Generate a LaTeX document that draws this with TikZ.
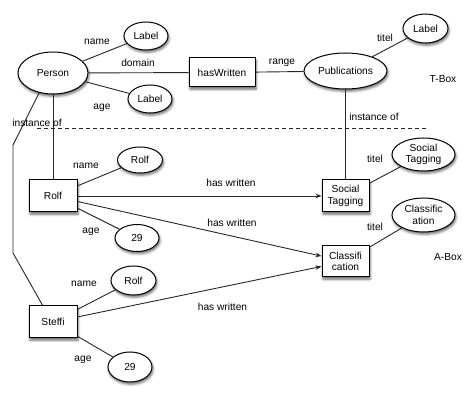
\documentclass[tikz,border=0pt]{standalone}
\usepackage{fontspec}
\setmainfont{Liberation Sans}
\usetikzlibrary{shapes.geometric,arrows.meta,shadows.blur}
\begin{document}
\begin{tikzpicture}[x=1pt,y=-1pt,
  every node/.style={font=\fontsize{10.2}{11.7}\selectfont},
  shad/.style={blur shadow={shadow xshift=1pt,shadow yshift=-2.2pt,shadow blur radius=2.5pt,shadow opacity=60}},
  ell/.style={ellipse,draw,fill=white,line width=1pt,inner sep=0pt,align=center,shad},
  bx/.style={rectangle,draw,fill=white,line width=1pt,inner sep=0pt,align=center,shad},
  lbl/.style={inner sep=0pt},
  conn/.style={line width=0.9pt,draw=black!85},
  arr/.style={conn,-{Stealth[length=6pt,width=4.5pt]}}
]
\useasboundingbox (0,0) rectangle (474,403);
% T-Box
\node[ell,minimum width=70,minimum height=42] (person) at (53,73) {Person};
\node[ell,minimum width=44,minimum height=28] (lname) at (146,36) {Label};
\node[ell,minimum width=44,minimum height=28] (lage) at (150,99) {Label};
\node[bx,minimum width=66,minimum height=29] (hw) at (222,72.5) {hasWritten};
\node[ell,minimum width=83,minimum height=36] (pub) at (345.5,71) {Publications};
\node[ell,minimum width=45,minimum height=29] (ltitel) at (425.5,28.5) {Label};
\node[lbl] (tbox) at (443,79) {T-Box};
% A-Box
\node[bx,minimum width=48,minimum height=32] (rolf) at (53,196) {Rolf};
\node[ell,minimum width=45,minimum height=26] (rname) at (140,160) {Rolf};
\node[ell,minimum width=44,minimum height=27] (rage) at (137,238) {29};
\node[bx,minimum width=47,minimum height=32] (st) at (345.5,196) {Social\\Tagging};
\node[ell,minimum width=63,minimum height=33] (sttitel) at (423.5,154.5) {Social\\Tagging};
\node[bx,minimum width=47,minimum height=31] (cls) at (345.5,261.5) {Classifi\\cation};
\node[ell,minimum width=63,minimum height=34] (clstitel) at (423.5,215) {Classific\\ation};
\node[lbl] (abox) at (448,257) {A-Box};
\node[bx,minimum width=48,minimum height=32] (steffi) at (53,322) {Steffi};
\node[ell,minimum width=45,minimum height=29] (sname) at (133.5,280.5) {Rolf};
\node[ell,minimum width=44,minimum height=30] (sage) at (130,367) {29};
% coordinates
\coordinate (d1) at (37,128);
\coordinate (d2) at (427,128);
\coordinate (c1) at (13,145);
\coordinate (c2) at (13,253);
% connectors
\draw[conn] (person) -- (lname);
\draw[conn] (person) -- (hw);
\draw[conn] (person) -- (lage);
\draw[conn] (hw) -- (pub);
\draw[conn] (pub) -- (ltitel);
\draw[conn] (pub.south) -- (st.north);
\draw[conn] (person.south) -- (rolf.north);
\draw[conn] (person.235) -- (c1) -- (c2) -- (steffi.122);
\draw[conn,dash pattern=on 4pt off 3pt] (d1) -- (d2);
\draw[conn] (rolf) -- (rname);
\draw[conn] (rolf) -- (rage);
\draw[arr] (rolf) -- (st);
\draw[arr] (rolf) -- (cls);
\draw[arr] (steffi) -- (cls);
\draw[conn] (steffi) -- (sname);
\draw[conn] (steffi) -- (sage);
\draw[conn] (st) -- (sttitel);
\draw[conn] (cls) -- (clstitel);
% edge labels
\node[lbl] (t1) at (97,42) {name};
\node[lbl] (t2) at (138,63) {domain};
\node[lbl] (t3) at (102,108) {age};
\node[lbl] (t4) at (37,123) {instance of};
\node[lbl] (t5) at (282,63) {range};
\node[lbl] (t6) at (385,38) {titel};
\node[lbl] (t7) at (374,117) {instance of};
\node[lbl] (t8) at (86,166) {name};
\node[lbl] (t9) at (91,232) {age};
\node[lbl] (t10) at (231,183) {has written};
\node[lbl] (t11) at (232,223) {has written};
\node[lbl] (t12) at (375,159) {titel};
\node[lbl] (t13) at (375,227) {titel};
\node[lbl] (t14) at (84,284) {name};
\node[lbl] (t15) at (83,360) {age};
\node[lbl] (t16) at (222.5,307) {has written};
\end{tikzpicture}
\end{document}
